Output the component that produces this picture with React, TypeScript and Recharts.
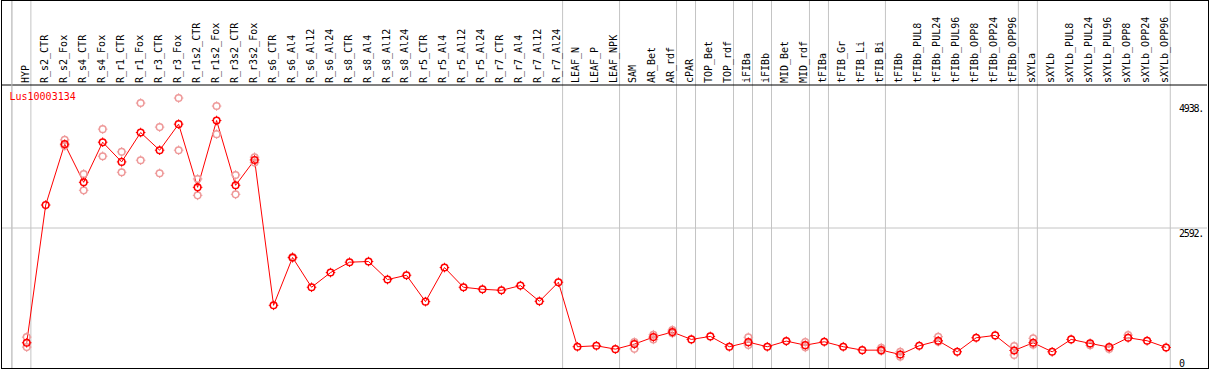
import React from 'react';
import { ComposedChart, Line, Scatter, XAxis, YAxis, ReferenceLine, CartesianGrid } from 'recharts';

const title = 'Lus10003134';

const categories = [
  'HYP', 'R_s2_CTR', 'R_s2_Fox', 'R_s4_CTR', 'R_s4_Fox', 'R_r1_CTR', 'R_r1_Fox', 'R_r3_CTR', 'R_r3_Fox',
  'R_r1s2_CTR', 'R_r1s2_Fox', 'R_r3s2_CTR', 'R_r3s2_Fox', 'R_s6_CTR', 'R_s6_Al4', 'R_s6_Al12', 'R_s6_Al24',
  'R_s8_CTR', 'R_s8_Al4', 'R_s8_Al12', 'R_s8_Al24', 'R_r5_CTR', 'R_r5_Al4', 'R_r5_Al12', 'R_r5_Al24',
  'R_r7_CTR', 'R_r7_Al4', 'R_r7_Al12', 'R_r7_Al24', 'LEAF_N', 'LEAF_P', 'LEAF_NPK', 'SAM', 'AR_Bet', 'AR_rdf',
  'cPAR', 'TOP_Bet', 'TOP_rdf', 'iFIBa', 'iFIBb', 'MID_Bet', 'MID_rdf', 'tFIBa', 'tFIB_Gr', 'tFIB_Li', 'tFIB_Bi',
  'tFIBb', 'tFIBb_PUL8', 'tFIBb_PUL24', 'tFIBb_PUL96', 'tFIBb_OPP8', 'tFIBb_OPP24', 'tFIBb_OPP96', 'sXYLa',
  'sXYLb', 'sXYLb_PUL8', 'sXYLb_PUL24', 'sXYLb_PUL96', 'sXYLb_OPP8', 'sXYLb_OPP24', 'sXYLb_OPP96',
];

const means = [
  444, 3022, 4161, 3447, 4198, 3829, 4379, 4048, 4536, 3353, 4604, 3391, 3866, 1145, 2040, 1483, 1758,
  1952, 1965, 1627, 1708, 1214, 1852, 1483, 1445, 1426, 1514, 1220, 1577, 370, 388, 325, 419, 550, 644,
  507, 563, 370, 456, 370, 475, 400, 463, 370, 306, 306, 225, 388, 482, 275, 538, 582, 300, 444,
  275, 507, 432, 363, 538, 482, 357,
];

const rep1: (number | null)[] = [
  550, null, 4242, 3604, 4442, 4017, 4930, 4480, 5024, 3510, 4874, 3585, 3917, null, 2050, null, null,
  null, null, null, null, null, null, null, null, null, null, null, null, null, null, null, 330, 595, 683,
  null, null, null, 547, null, null, 458, null, null, null, 352, 277, null, 558, null, null, null, 383, 528,
  null, null, 397, 327, 589, null, null,
];

const rep2: (number | null)[] = [
  363, null, 4129, 3297, 3936, 3635, 3861, 3616, 4048, 3203, 4348, 3222, 3816, null, 2030, null, null,
  null, null, null, null, null, null, null, null, null, null, null, null, null, null, null, 456, 507, 621,
  null, null, null, 402, null, null, 358, null, null, null, 290, 184, null, 464, null, null, null, 215, 408,
  null, null, null, null, null, null, null,
];

// indices after which a grey separator line is drawn (-1 = before the first category)
const groupEnds = [-1, 0, 28, 31, 34, 35, 37, 38, 39, 41, 42, 45, 52, 53, 60];

const yTicks = [0, 2592, 4938];
const yTickLabels = ['0', '2592.', '4938.'];
const headerLineValue = 5268;
const yDomain: [number, number] = [-28, 6859];
const xDomain: [number, number] = [-1.3007, 62.154];

const PLOT_LEFT = 2;
const PLOT_WIDTH = 1205;

const data = categories.map((name, i) => ({ i, name, mean: means[i] }));
const repData: { i: number; v: number }[] = [];
categories.forEach((_, i) => {
  if (rep1[i] != null) repData.push({ i, v: rep1[i] as number });
  if (rep2[i] != null) repData.push({ i, v: rep2[i] as number });
});

const FONT = '"DejaVu Sans Mono", monospace';
const GRID = '#c4c4c4';

const xPix = (v: number) => PLOT_LEFT + ((v - xDomain[0]) / (xDomain[1] - xDomain[0])) * PLOT_WIDTH;

const CatTick = (props: any) => {
  const { x, payload } = props;
  return (
    <text
      transform={`translate(${x + 2},83) rotate(-90)`}
      fontFamily={FONT}
      fontSize={10}
      fill="#000"
      textAnchor="start"
    >
      {categories[payload.value]}
    </text>
  );
};

const ValTick = (props: any) => {
  const { y, payload } = props;
  const idx = yTicks.indexOf(payload.value);
  return (
    <text
      x={1179}
      y={payload.value === 0 ? y : y + 9}
      fontFamily={FONT}
      fontSize={10}
      letterSpacing={-1.2}
      fill="#000"
    >
      {yTickLabels[idx]}
    </text>
  );
};

const Marker = ({ cx, cy, color }: { cx: number; cy: number; color: string }) => {
  if (cx == null || cy == null || isNaN(cx) || isNaN(cy)) return null;
  const r = 3.3;
  return (
    <g>
      <circle cx={cx} cy={cy} r={r} fill="none" stroke={color} strokeWidth={1.5} />
      <line x1={cx} y1={cy - r - 1.5} x2={cx} y2={cy - r + 0.5} stroke={color} strokeWidth={1} />
      <line x1={cx} y1={cy + r - 0.5} x2={cx} y2={cy + r + 1.5} stroke={color} strokeWidth={1} />
      <line x1={cx - r - 1.5} y1={cy} x2={cx - r + 0.5} y2={cy} stroke={color} strokeWidth={1} />
      <line x1={cx + r - 0.5} y1={cy} x2={cx + r + 1.5} y2={cy} stroke={color} strokeWidth={1} />
    </g>
  );
};

const verticalGen = (props: any) => {
  const { offset } = props;
  const left = offset.left;
  const w = offset.width;
  return groupEnds.map(
    (g) => left + ((g + 0.22 - xDomain[0]) / (xDomain[1] - xDomain[0])) * w,
  );
};

export default function App() {
  return (
    <div style={{ position: 'absolute', left: 0, top: 0, width: 1209, height: 370, background: '#fff' }}>
      <ComposedChart
        width={1209}
        height={370}
        data={data}
        margin={{ top: -20, left: PLOT_LEFT, right: -18, bottom: 2 }}
      >
        <CartesianGrid
          horizontal={false}
          vertical
          stroke={GRID}
          strokeDasharray=""
          verticalCoordinatesGenerator={verticalGen}
        />
        <XAxis
          dataKey="i"
          type="number"
          domain={xDomain}
          allowDataOverflow
          orientation="top"
          height={20}
          ticks={data.map((d) => d.i)}
          interval={0}
          axisLine={false}
          tickLine={false}
          tick={<CatTick />}
        />
        <YAxis
          type="number"
          orientation="right"
          width={20}
          domain={yDomain}
          allowDataOverflow
          ticks={yTicks}
          interval={0}
          axisLine={false}
          tickLine={false}
          tick={<ValTick />}
        />
        <ReferenceLine y={2592} stroke={GRID} strokeWidth={1} />
        <ReferenceLine y={headerLineValue} stroke="#000" strokeWidth={1} />
        <Scatter
          data={repData}
          dataKey="v"
          isAnimationActive={false}
          shape={(p: any) => <Marker cx={p.cx} cy={p.cy} color="#ee9a9a" />}
        />
        <Line
          dataKey="mean"
          stroke="#ff0000"
          strokeWidth={1}
          isAnimationActive={false}
          dot={(p: any) => <Marker key={'d' + p.index} cx={p.cx} cy={p.cy} color="#ff0000" />}
          activeDot={false}
        />
      </ComposedChart>
      <svg
        width={1209}
        height={370}
        style={{ position: 'absolute', left: 0, top: 0, pointerEvents: 'none' }}
      >
        <line
          x1={xPix(groupEnds[0] + 0.22)}
          x2={xPix(groupEnds[0] + 0.22)}
          y1={0}
          y2={368}
          stroke={GRID}
          strokeWidth={1}
        />
        <text x={9.5} y={100} fontFamily={FONT} fontSize={10} fill="#ff0000">
          {title}
        </text>
      </svg>
      <div
        style={{
          position: 'absolute',
          left: 1,
          top: 0,
          width: 1208,
          height: 369,
          border: '1px solid #000',
          boxSizing: 'border-box',
          pointerEvents: 'none',
        }}
      />
    </div>
  );
}
